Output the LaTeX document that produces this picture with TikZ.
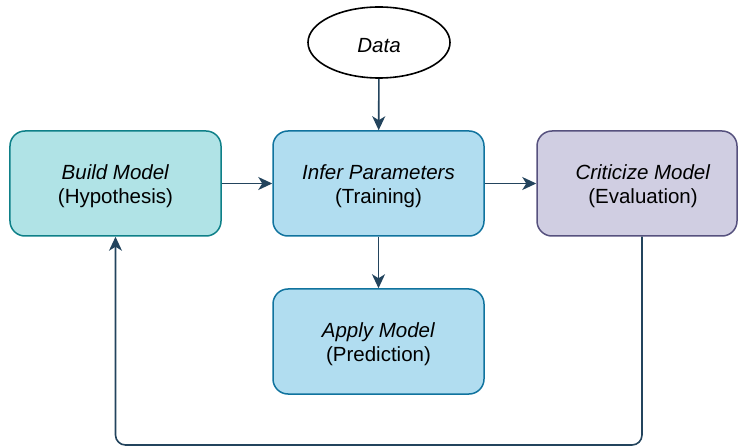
\documentclass[tikz,border=0pt]{standalone}
\usepackage{fontspec}
\setmainfont{Liberation Sans}
\usetikzlibrary{arrows.meta,shapes.geometric}

\definecolor{tealfill}{HTML}{B0E3E6}
\definecolor{tealline}{HTML}{0E8088}
\definecolor{bluefill}{HTML}{B1DDF0}
\definecolor{blueline}{HTML}{10739E}
\definecolor{purplefill}{HTML}{D0CEE2}
\definecolor{purpleline}{HTML}{56517E}
\definecolor{edgecol}{HTML}{23445D}

\tikzset{
  stagebox/.style={rectangle, rounded corners=15bp, line width=1.5bp,
    minimum width=211bp, minimum height=105bp, inner sep=0pt},
  teal box/.style={stagebox, fill=tealfill, draw=tealline},
  blue box/.style={stagebox, fill=bluefill, draw=blueline},
  purple box/.style={stagebox, fill=purplefill, draw=purpleline},
  caption/.style={align=center, inner sep=0pt,
    font=\fontsize{20.5bp}{24bp}\selectfont},
  source/.style={ellipse, draw=black, line width=1.6bp, fill=white,
    minimum width=142bp, minimum height=71bp, inner sep=0pt},
  flow/.style={draw=edgecol, line width=1.6bp,
    -{Stealth[length=14bp,width=13bp,inset=4bp]}}
}

\begin{document}
\begin{tikzpicture}[x=1bp,y=-1bp]
  \useasboundingbox (0,0) rectangle (738,447);

  % shapes
  \node[source] (data) at (379,42.5) {};
  \node[teal box] (build) at (115.5,183.5) {};
  \node[blue box] (infer) at (378.5,183.5) {};
  \node[purple box, minimum width=200bp] (crit) at (637,183.5) {};
  \node[blue box] (apply) at (378.5,341.5) {};

  % texts, sitting slightly below the shape centres
  \node[caption, font=\fontsize{20.5bp}{24bp}\selectfont\itshape] (dataText) at ([yshift=-3bp]data.center) {Data};
  \node[caption] (buildText) at ([yshift=-2.5bp]build.center) {\textit{Build Model}\\(Hypothesis)};
  \node[caption] (inferText) at ([yshift=-2.5bp]infer.center) {\textit{Infer Parameters}\\(Training)};
  \node[caption] (critText) at ([xshift=6bp,yshift=-2.5bp]crit.center) {\textit{Criticize Model}\\(Evaluation)};
  \node[caption] (applyText) at ([yshift=-2.5bp]apply.center) {\textit{Apply Model}\\(Prediction)};

  % feedback loop corners
  \coordinate (loopR) at (642,445);
  \coordinate (loopL) at (115.5,445);

  \draw[flow] (data) -- (infer);
  \draw[flow] (build) -- (infer);
  \draw[flow] (infer) -- (crit);
  \draw[flow] (infer) -- (apply);
  \draw[flow, rounded corners=10bp] (crit.south -| loopR) -- (loopR) -- (loopL) -- (build.south);
\end{tikzpicture}
\end{document}
